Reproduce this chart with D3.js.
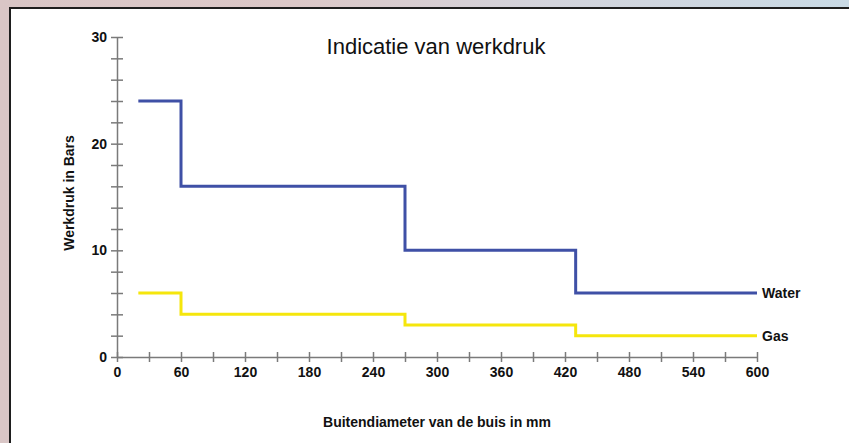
<!DOCTYPE html>
<html>
<head>
<meta charset="utf-8">
<script src="https://cdn.jsdelivr.net/npm/d3@7"></script>
<style>
  body { margin: 0; overflow: hidden; }
  svg { display: block; font-family: "Liberation Sans", Arial, Helvetica, sans-serif; }
</style>
</head>
<body>
<svg id="chart" width="849" height="443"></svg>
<script>
// step breakpoints (mm) and pressure per segment (bar)
var diameters = [20, 60, 270, 430, 600];
var waterPressure = [24, 16, 10, 6];
var gasPressure = [6, 4, 3, 2];
var seriesNames = ["Water", "Gas"];
var seriesColors = ["#3f50a6", "#f5e60c"];

var xMinorTicks = [0, 30, 60, 90, 120, 150, 180, 210, 240, 270, 300, 330, 360, 390, 420, 450, 480, 510, 540, 570, 600];
var xTickLabels = [0, 60, 120, 180, 240, 300, 360, 420, 480, 540, 600];
var yMinorTicks = [0, 2, 4, 6, 8, 10, 12, 14, 16, 18, 20, 22, 24, 26, 28, 30];
var yTickLabels = [0, 10, 20, 30];

var W = 849, H = 443;
var margin = {top: 37, right: 92, bottom: 86, left: 117};

var svg = d3.select("#chart");

// blurry backdrop behind the white panel
var defs = svg.append("defs");
var grad = defs.append("linearGradient").attr("id", "bg")
    .attr("x1", 0).attr("y1", 0).attr("x2", 1).attr("y2", 0);
grad.append("stop").attr("offset", "0%").attr("stop-color", "#d9c6c6");
grad.append("stop").attr("offset", "35%").attr("stop-color", "#dcc8c8");
grad.append("stop").attr("offset", "65%").attr("stop-color", "#d3d4dc");
grad.append("stop").attr("offset", "100%").attr("stop-color", "#c9dae5");

svg.append("rect").attr("width", W).attr("height", H).attr("fill", "url(#bg)");
svg.append("rect")
    .attr("x", 10).attr("y", 8)
    .attr("width", W + 10).attr("height", H + 10)
    .attr("fill", "#fff")
    .attr("stroke", "#1e1e1e")
    .attr("stroke-width", 2);

var x = d3.scaleLinear().domain([0, 600]).range([margin.left, W - margin.right]);
var y = d3.scaleLinear().domain([0, 30]).range([H - margin.bottom - 0, margin.top]);

var axisColor = "#7a7a7a";

var xAxis = d3.axisBottom(x)
    .tickValues(xMinorTicks)
    .tickFormat(function(d) { return xTickLabels.indexOf(d) >= 0 ? d : ""; })
    .tickSize(0)
    .tickPadding(10);

var yAxis = d3.axisLeft(y)
    .tickValues(yMinorTicks)
    .tickFormat(function(d) { return yTickLabels.indexOf(d) >= 0 ? d : ""; })
    .tickSize(0)
    .tickPadding(10);

var gx = svg.append("g")
    .attr("transform", "translate(0," + y(0) + ")")
    .call(xAxis);
gx.selectAll(".tick line").attr("y1", -5).attr("y2", 5);

var gy = svg.append("g")
    .attr("transform", "translate(" + x(0) + ",0)")
    .call(yAxis);
gy.selectAll(".tick line").attr("x1", -6).attr("x2", 6);

[gx, gy].forEach(function(g) {
  g.select(".domain").attr("stroke", axisColor).attr("stroke-width", 1.5);
  g.selectAll(".tick line").attr("stroke", axisColor).attr("stroke-width", 1.5);
  g.selectAll(".tick text")
      .attr("fill", "#111")
      .style("font-size", "14px")
      .style("font-weight", "bold");
});

// step lines
var line = d3.line()
    .x(function(d) { return x(d[0]); })
    .y(function(d) { return y(d[1]); })
    .curve(d3.curveStepAfter);

function stepPoints(values) {
  return diameters.map(function(b, i) {
    return [b, values[Math.min(i, values.length - 1)]];
  });
}

var series = [waterPressure, gasPressure];
series.forEach(function(values, i) {
  var pts = stepPoints(values);
  svg.append("path")
      .datum(pts)
      .attr("d", line)
      .attr("fill", "none")
      .attr("stroke", seriesColors[i])
      .attr("stroke-width", 3)
      .attr("stroke-linejoin", "miter");

  var last = pts[pts.length - 1];
  svg.append("text")
      .attr("x", x(last[0]) + 5)
      .attr("y", y(last[1]))
      .attr("dy", "0.35em")
      .attr("fill", "#111")
      .style("font-size", "14px")
      .style("font-weight", "bold")
      .text(seriesNames[i]);
});

// titles
svg.append("text")
    .attr("x", 436).attr("y", 54)
    .attr("text-anchor", "middle")
    .attr("fill", "#111")
    .style("font-size", "22px")
    .text("Indicatie van werkdruk");

svg.append("text")
    .attr("x", 437).attr("y", 427)
    .attr("text-anchor", "middle")
    .attr("fill", "#111")
    .style("font-size", "14px")
    .style("font-weight", "bold")
    .text("Buitendiameter van de buis in mm");

svg.append("text")
    .attr("transform", "translate(74,193) rotate(-90)")
    .attr("text-anchor", "middle")
    .attr("fill", "#111")
    .style("font-size", "14px")
    .style("font-weight", "bold")
    .text("Werkdruk in Bars");
</script>
</body>
</html>
